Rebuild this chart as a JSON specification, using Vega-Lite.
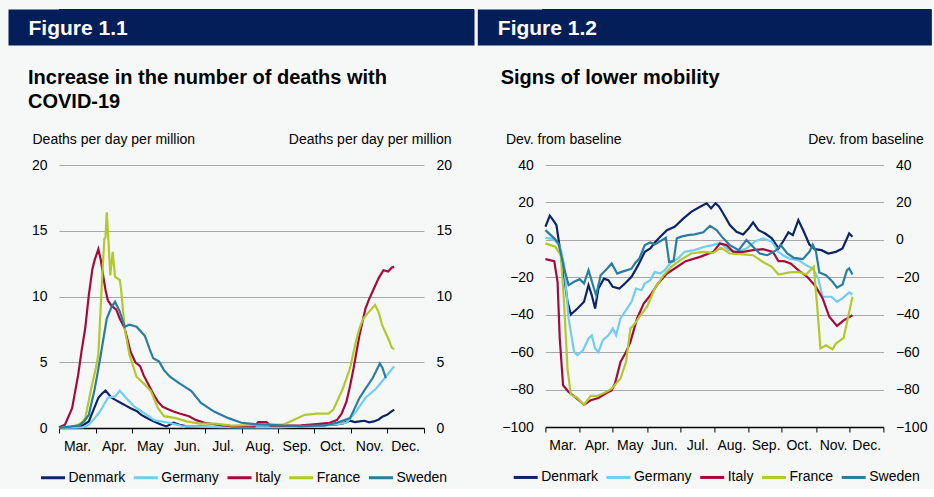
{
  "$schema": "https://vega.github.io/schema/vega-lite/v6.json",
  "background": "#f6f8f8",
  "padding": {"left": 8, "top": 9, "right": 0, "bottom": 4},
  "spacing": 22,
  "columns": 1,
  "resolve": {"scale": {"color": "independent"}},
  "config": {
    "font": "Liberation Sans",
    "view": {"stroke": null},
    "axis": {"labelFont": "Liberation Sans", "labelFontSize": 14, "labelColor": "#000", "titleFont": "Liberation Sans", "titleFontSize": 14, "titleFontWeight": "normal", "titleColor": "#000"},
    "legend": {"labelFont": "Liberation Sans", "labelFontSize": 14, "labelColor": "#000"},
    "title": {"font": "Liberation Sans", "color": "#000"}
  },
  "datasets": {
    "deaths": [
      {"d":"2020-03-01","c":"Denmark","v":0},{"d":"2020-03-15","c":"Denmark","v":0.02},{"d":"2020-03-21","c":"Denmark","v":0.2},{"d":"2020-03-26","c":"Denmark","v":0.5},{"d":"2020-03-30","c":"Denmark","v":1.4},{"d":"2020-04-03","c":"Denmark","v":2.3},{"d":"2020-04-06","c":"Denmark","v":2.6},{"d":"2020-04-09","c":"Denmark","v":2.85},{"d":"2020-04-14","c":"Denmark","v":2.3},{"d":"2020-04-18","c":"Denmark","v":2.1},{"d":"2020-04-22","c":"Denmark","v":1.9},{"d":"2020-04-26","c":"Denmark","v":1.7},{"d":"2020-04-30","c":"Denmark","v":1.5},{"d":"2020-05-05","c":"Denmark","v":1.3},{"d":"2020-05-09","c":"Denmark","v":1.0},{"d":"2020-05-13","c":"Denmark","v":0.8},{"d":"2020-05-17","c":"Denmark","v":0.6},{"d":"2020-05-22","c":"Denmark","v":0.4},{"d":"2020-05-26","c":"Denmark","v":0.25},{"d":"2020-05-30","c":"Denmark","v":0.12},{"d":"2020-06-05","c":"Denmark","v":0.4},{"d":"2020-06-10","c":"Denmark","v":0.25},{"d":"2020-06-16","c":"Denmark","v":0.12},{"d":"2020-06-28","c":"Denmark","v":0.1},{"d":"2020-07-20","c":"Denmark","v":0.05},{"d":"2020-08-20","c":"Denmark","v":0.05},{"d":"2020-09-20","c":"Denmark","v":0.12},{"d":"2020-10-18","c":"Denmark","v":0.25},{"d":"2020-10-25","c":"Denmark","v":0.35},{"d":"2020-10-31","c":"Denmark","v":0.55},{"d":"2020-11-04","c":"Denmark","v":0.45},{"d":"2020-11-08","c":"Denmark","v":0.5},{"d":"2020-11-12","c":"Denmark","v":0.55},{"d":"2020-11-16","c":"Denmark","v":0.43},{"d":"2020-11-20","c":"Denmark","v":0.5},{"d":"2020-11-24","c":"Denmark","v":0.65},{"d":"2020-11-27","c":"Denmark","v":0.85},{"d":"2020-12-01","c":"Denmark","v":1.0},{"d":"2020-12-04","c":"Denmark","v":1.2},{"d":"2020-12-07","c":"Denmark","v":1.4},
      {"d":"2020-03-01","c":"Germany","v":0},{"d":"2020-03-21","c":"Germany","v":0.05},{"d":"2020-03-26","c":"Germany","v":0.25},{"d":"2020-03-31","c":"Germany","v":0.75},{"d":"2020-04-03","c":"Germany","v":1.1},{"d":"2020-04-06","c":"Germany","v":1.5},{"d":"2020-04-11","c":"Germany","v":2.3},{"d":"2020-04-17","c":"Germany","v":2.4},{"d":"2020-04-21","c":"Germany","v":2.83},{"d":"2020-04-26","c":"Germany","v":2.3},{"d":"2020-05-03","c":"Germany","v":1.65},{"d":"2020-05-08","c":"Germany","v":1.35},{"d":"2020-05-12","c":"Germany","v":1.1},{"d":"2020-05-20","c":"Germany","v":0.6},{"d":"2020-06-01","c":"Germany","v":0.4},{"d":"2020-06-12","c":"Germany","v":0.15},{"d":"2020-07-01","c":"Germany","v":0.08},{"d":"2020-08-01","c":"Germany","v":0.05},{"d":"2020-09-01","c":"Germany","v":0.05},{"d":"2020-10-03","c":"Germany","v":0.15},{"d":"2020-10-20","c":"Germany","v":0.3},{"d":"2020-10-28","c":"Germany","v":0.4},{"d":"2020-11-05","c":"Germany","v":1.25},{"d":"2020-11-13","c":"Germany","v":2.3},{"d":"2020-11-22","c":"Germany","v":3.0},{"d":"2020-11-30","c":"Germany","v":3.9},{"d":"2020-12-07","c":"Germany","v":4.7},
      {"d":"2020-03-01","c":"Italy","v":0.05},{"d":"2020-03-06","c":"Italy","v":0.25},{"d":"2020-03-12","c":"Italy","v":1.5},{"d":"2020-03-17","c":"Italy","v":4.0},{"d":"2020-03-20","c":"Italy","v":5.9},{"d":"2020-03-23","c":"Italy","v":7.6},{"d":"2020-03-26","c":"Italy","v":10.1},{"d":"2020-03-29","c":"Italy","v":12.1},{"d":"2020-03-31","c":"Italy","v":12.8},{"d":"2020-04-03","c":"Italy","v":13.6},{"d":"2020-04-05","c":"Italy","v":12.8},{"d":"2020-04-07","c":"Italy","v":11.6},{"d":"2020-04-09","c":"Italy","v":10.5},{"d":"2020-04-11","c":"Italy","v":9.7},{"d":"2020-04-14","c":"Italy","v":9.3},{"d":"2020-04-18","c":"Italy","v":9.0},{"d":"2020-04-21","c":"Italy","v":8.3},{"d":"2020-04-25","c":"Italy","v":7.6},{"d":"2020-04-30","c":"Italy","v":5.8},{"d":"2020-05-04","c":"Italy","v":5.0},{"d":"2020-05-08","c":"Italy","v":4.7},{"d":"2020-05-11","c":"Italy","v":4.0},{"d":"2020-05-15","c":"Italy","v":3.3},{"d":"2020-05-19","c":"Italy","v":2.6},{"d":"2020-05-23","c":"Italy","v":2.0},{"d":"2020-05-27","c":"Italy","v":1.6},{"d":"2020-06-01","c":"Italy","v":1.4},{"d":"2020-06-05","c":"Italy","v":1.25},{"d":"2020-06-10","c":"Italy","v":1.1},{"d":"2020-06-18","c":"Italy","v":0.9},{"d":"2020-06-24","c":"Italy","v":0.6},{"d":"2020-07-01","c":"Italy","v":0.4},{"d":"2020-07-12","c":"Italy","v":0.25},{"d":"2020-07-25","c":"Italy","v":0.12},{"d":"2020-08-12","c":"Italy","v":0.12},{"d":"2020-08-15","c":"Italy","v":0.45},{"d":"2020-08-22","c":"Italy","v":0.45},{"d":"2020-08-25","c":"Italy","v":0.2},{"d":"2020-09-06","c":"Italy","v":0.18},{"d":"2020-09-20","c":"Italy","v":0.2},{"d":"2020-10-03","c":"Italy","v":0.3},{"d":"2020-10-14","c":"Italy","v":0.4},{"d":"2020-10-20","c":"Italy","v":0.6},{"d":"2020-10-24","c":"Italy","v":1.1},{"d":"2020-10-28","c":"Italy","v":2.0},{"d":"2020-10-31","c":"Italy","v":3.2},{"d":"2020-11-03","c":"Italy","v":4.55},{"d":"2020-11-08","c":"Italy","v":7.1},{"d":"2020-11-13","c":"Italy","v":9.1},{"d":"2020-11-16","c":"Italy","v":9.8},{"d":"2020-11-19","c":"Italy","v":10.4},{"d":"2020-11-24","c":"Italy","v":11.4},{"d":"2020-11-28","c":"Italy","v":12.0},{"d":"2020-12-02","c":"Italy","v":11.9},{"d":"2020-12-05","c":"Italy","v":12.2},{"d":"2020-12-07","c":"Italy","v":12.25},
      {"d":"2020-03-01","c":"France","v":0},{"d":"2020-03-15","c":"France","v":0.15},{"d":"2020-03-20","c":"France","v":0.4},{"d":"2020-03-23","c":"France","v":0.75},{"d":"2020-03-28","c":"France","v":3.0},{"d":"2020-04-01","c":"France","v":4.6},{"d":"2020-04-03","c":"France","v":5.6},{"d":"2020-04-06","c":"France","v":11.1},{"d":"2020-04-08","c":"France","v":14.4},{"d":"2020-04-09","c":"France","v":14.5},{"d":"2020-04-10","c":"France","v":16.4},{"d":"2020-04-11","c":"France","v":15.0},{"d":"2020-04-13","c":"France","v":11.6},{"d":"2020-04-14","c":"France","v":12.5},{"d":"2020-04-15","c":"France","v":13.4},{"d":"2020-04-17","c":"France","v":11.5},{"d":"2020-04-21","c":"France","v":11.25},{"d":"2020-04-22","c":"France","v":10.6},{"d":"2020-04-25","c":"France","v":7.6},{"d":"2020-04-29","c":"France","v":5.6},{"d":"2020-05-05","c":"France","v":3.9},{"d":"2020-05-12","c":"France","v":3.3},{"d":"2020-05-17","c":"France","v":2.8},{"d":"2020-05-23","c":"France","v":1.5},{"d":"2020-05-28","c":"France","v":0.9},{"d":"2020-06-07","c":"France","v":0.75},{"d":"2020-06-16","c":"France","v":0.5},{"d":"2020-06-27","c":"France","v":0.33},{"d":"2020-07-10","c":"France","v":0.33},{"d":"2020-07-24","c":"France","v":0.18},{"d":"2020-08-22","c":"France","v":0.25},{"d":"2020-09-05","c":"France","v":0.25},{"d":"2020-09-11","c":"France","v":0.5},{"d":"2020-09-23","c":"France","v":1.0},{"d":"2020-10-03","c":"France","v":1.1},{"d":"2020-10-13","c":"France","v":1.1},{"d":"2020-10-17","c":"France","v":1.4},{"d":"2020-10-20","c":"France","v":2.0},{"d":"2020-10-25","c":"France","v":3.0},{"d":"2020-10-31","c":"France","v":4.55},{"d":"2020-11-05","c":"France","v":6.6},{"d":"2020-11-08","c":"France","v":7.6},{"d":"2020-11-11","c":"France","v":8.3},{"d":"2020-11-16","c":"France","v":8.85},{"d":"2020-11-21","c":"France","v":9.35},{"d":"2020-11-24","c":"France","v":8.8},{"d":"2020-11-27","c":"France","v":7.8},{"d":"2020-11-30","c":"France","v":7.2},{"d":"2020-12-03","c":"France","v":6.6},{"d":"2020-12-05","c":"France","v":6.1},{"d":"2020-12-07","c":"France","v":6.0},
      {"d":"2020-03-01","c":"Sweden","v":0},{"d":"2020-03-18","c":"Sweden","v":0.2},{"d":"2020-03-22","c":"Sweden","v":0.5},{"d":"2020-03-26","c":"Sweden","v":1.0},{"d":"2020-03-31","c":"Sweden","v":3.0},{"d":"2020-04-03","c":"Sweden","v":4.5},{"d":"2020-04-06","c":"Sweden","v":6.1},{"d":"2020-04-10","c":"Sweden","v":8.3},{"d":"2020-04-14","c":"Sweden","v":9.2},{"d":"2020-04-17","c":"Sweden","v":9.6},{"d":"2020-04-21","c":"Sweden","v":8.85},{"d":"2020-04-25","c":"Sweden","v":7.7},{"d":"2020-04-29","c":"Sweden","v":7.85},{"d":"2020-05-05","c":"Sweden","v":7.7},{"d":"2020-05-12","c":"Sweden","v":7.0},{"d":"2020-05-16","c":"Sweden","v":6.0},{"d":"2020-05-19","c":"Sweden","v":5.3},{"d":"2020-05-24","c":"Sweden","v":5.05},{"d":"2020-05-28","c":"Sweden","v":4.4},{"d":"2020-06-02","c":"Sweden","v":3.9},{"d":"2020-06-10","c":"Sweden","v":3.4},{"d":"2020-06-20","c":"Sweden","v":2.8},{"d":"2020-06-28","c":"Sweden","v":1.9},{"d":"2020-07-09","c":"Sweden","v":1.25},{"d":"2020-07-21","c":"Sweden","v":0.75},{"d":"2020-08-01","c":"Sweden","v":0.4},{"d":"2020-08-12","c":"Sweden","v":0.3},{"d":"2020-08-23","c":"Sweden","v":0.25},{"d":"2020-09-06","c":"Sweden","v":0.18},{"d":"2020-09-20","c":"Sweden","v":0.15},{"d":"2020-10-10","c":"Sweden","v":0.2},{"d":"2020-10-20","c":"Sweden","v":0.4},{"d":"2020-10-31","c":"Sweden","v":0.75},{"d":"2020-11-08","c":"Sweden","v":2.3},{"d":"2020-11-13","c":"Sweden","v":3.0},{"d":"2020-11-19","c":"Sweden","v":3.8},{"d":"2020-11-25","c":"Sweden","v":4.9},{"d":"2020-11-27","c":"Sweden","v":4.6},{"d":"2020-11-30","c":"Sweden","v":3.8}
    ],
    "mobility": [
      {"d":"2020-03-01","c":"Denmark","v":7.0},{"d":"2020-03-05","c":"Denmark","v":12.9},{"d":"2020-03-08","c":"Denmark","v":10.5},{"d":"2020-03-11","c":"Denmark","v":7.9},{"d":"2020-03-15","c":"Denmark","v":-8.2},{"d":"2020-03-18","c":"Denmark","v":-19.7},{"d":"2020-03-21","c":"Denmark","v":-33},{"d":"2020-03-24","c":"Denmark","v":-39.9},{"d":"2020-03-30","c":"Denmark","v":-36.7},{"d":"2020-04-05","c":"Denmark","v":-33.1},{"d":"2020-04-09","c":"Denmark","v":-24.2},{"d":"2020-04-12","c":"Denmark","v":-29.6},{"d":"2020-04-15","c":"Denmark","v":-36.7},{"d":"2020-04-18","c":"Denmark","v":-26},{"d":"2020-04-23","c":"Denmark","v":-20.7},{"d":"2020-04-27","c":"Denmark","v":-21.5},{"d":"2020-05-01","c":"Denmark","v":-25.1},{"d":"2020-05-07","c":"Denmark","v":-26},{"d":"2020-05-12","c":"Denmark","v":-23.3},{"d":"2020-05-18","c":"Denmark","v":-19.7},{"d":"2020-05-24","c":"Denmark","v":-13.5},{"d":"2020-05-30","c":"Denmark","v":-6.4},{"d":"2020-06-04","c":"Denmark","v":-4.6},{"d":"2020-06-08","c":"Denmark","v":-1.4},{"d":"2020-06-13","c":"Denmark","v":1.65},{"d":"2020-06-19","c":"Denmark","v":5.2},{"d":"2020-06-26","c":"Denmark","v":7},{"d":"2020-07-04","c":"Denmark","v":11.5},{"d":"2020-07-11","c":"Denmark","v":15},{"d":"2020-07-19","c":"Denmark","v":17.7},{"d":"2020-07-25","c":"Denmark","v":19.5},{"d":"2020-07-29","c":"Denmark","v":16.8},{"d":"2020-08-02","c":"Denmark","v":19.5},{"d":"2020-08-05","c":"Denmark","v":18},{"d":"2020-08-09","c":"Denmark","v":14.1},{"d":"2020-08-15","c":"Denmark","v":7.9},{"d":"2020-08-21","c":"Denmark","v":4.3},{"d":"2020-08-27","c":"Denmark","v":2.9},{"d":"2020-09-01","c":"Denmark","v":6.1},{"d":"2020-09-05","c":"Denmark","v":9.3},{"d":"2020-09-10","c":"Denmark","v":5.2},{"d":"2020-09-16","c":"Denmark","v":3.4},{"d":"2020-09-22","c":"Denmark","v":0.8},{"d":"2020-09-28","c":"Denmark","v":-4.6},{"d":"2020-10-02","c":"Denmark","v":-1},{"d":"2020-10-07","c":"Denmark","v":4},{"d":"2020-10-11","c":"Denmark","v":2.5},{"d":"2020-10-16","c":"Denmark","v":10.6},{"d":"2020-10-21","c":"Denmark","v":4.3},{"d":"2020-10-26","c":"Denmark","v":-2.5},{"d":"2020-10-31","c":"Denmark","v":-5},{"d":"2020-11-06","c":"Denmark","v":-5.5},{"d":"2020-11-12","c":"Denmark","v":-7.3},{"d":"2020-11-19","c":"Denmark","v":-6.4},{"d":"2020-11-25","c":"Denmark","v":-4.6},{"d":"2020-12-01","c":"Denmark","v":3.4},{"d":"2020-12-04","c":"Denmark","v":1.7},
      {"d":"2020-03-01","c":"Germany","v":1.1},{"d":"2020-03-07","c":"Germany","v":0.5},{"d":"2020-03-11","c":"Germany","v":-1},{"d":"2020-03-15","c":"Germany","v":-5},{"d":"2020-03-18","c":"Germany","v":-13.5},{"d":"2020-03-22","c":"Germany","v":-42},{"d":"2020-03-27","c":"Germany","v":-59.9},{"d":"2020-03-30","c":"Germany","v":-61.7},{"d":"2020-04-04","c":"Germany","v":-59},{"d":"2020-04-09","c":"Germany","v":-52.7},{"d":"2020-04-12","c":"Germany","v":-51},{"d":"2020-04-15","c":"Germany","v":-58},{"d":"2020-04-18","c":"Germany","v":-60},{"d":"2020-04-22","c":"Germany","v":-53.6},{"d":"2020-04-27","c":"Germany","v":-51},{"d":"2020-05-01","c":"Germany","v":-47.4},{"d":"2020-05-04","c":"Germany","v":-51},{"d":"2020-05-08","c":"Germany","v":-42},{"d":"2020-05-13","c":"Germany","v":-37.6},{"d":"2020-05-18","c":"Germany","v":-33.1},{"d":"2020-05-22","c":"Germany","v":-26},{"d":"2020-05-27","c":"Germany","v":-26.9},{"d":"2020-05-30","c":"Germany","v":-23.3},{"d":"2020-06-04","c":"Germany","v":-21.5},{"d":"2020-06-08","c":"Germany","v":-17.1},{"d":"2020-06-13","c":"Germany","v":-18},{"d":"2020-06-17","c":"Germany","v":-16.2},{"d":"2020-06-23","c":"Germany","v":-11.8},{"d":"2020-06-29","c":"Germany","v":-10},{"d":"2020-07-05","c":"Germany","v":-6.4},{"d":"2020-07-14","c":"Germany","v":-5.5},{"d":"2020-07-23","c":"Germany","v":-3.7},{"d":"2020-07-31","c":"Germany","v":-2.8},{"d":"2020-08-06","c":"Germany","v":-1.4},{"d":"2020-08-14","c":"Germany","v":-5.5},{"d":"2020-08-21","c":"Germany","v":-6.4},{"d":"2020-08-30","c":"Germany","v":-4.6},{"d":"2020-09-07","c":"Germany","v":-0.7},{"d":"2020-09-14","c":"Germany","v":0.8},{"d":"2020-09-22","c":"Germany","v":-1},{"d":"2020-09-28","c":"Germany","v":-6.4},{"d":"2020-10-02","c":"Germany","v":-8.2},{"d":"2020-10-08","c":"Germany","v":-10},{"d":"2020-10-16","c":"Germany","v":-10.8},{"d":"2020-10-23","c":"Germany","v":-13.5},{"d":"2020-10-29","c":"Germany","v":-15.3},{"d":"2020-11-03","c":"Germany","v":-20.7},{"d":"2020-11-07","c":"Germany","v":-30.4},{"d":"2020-11-15","c":"Germany","v":-30.4},{"d":"2020-11-20","c":"Germany","v":-33.1},{"d":"2020-11-25","c":"Germany","v":-31.3},{"d":"2020-12-01","c":"Germany","v":-28.1},{"d":"2020-12-04","c":"Germany","v":-29.2},
      {"d":"2020-03-01","c":"Italy","v":-10.3},{"d":"2020-03-09","c":"Italy","v":-11.4},{"d":"2020-03-12","c":"Italy","v":-22.4},{"d":"2020-03-14","c":"Italy","v":-52.7},{"d":"2020-03-17","c":"Italy","v":-77.7},{"d":"2020-03-22","c":"Italy","v":-81.3},{"d":"2020-03-28","c":"Italy","v":-84},{"d":"2020-04-05","c":"Italy","v":-88.1},{"d":"2020-04-11","c":"Italy","v":-85.7},{"d":"2020-04-18","c":"Italy","v":-84.5},{"d":"2020-04-26","c":"Italy","v":-81.6},{"d":"2020-04-30","c":"Italy","v":-80.4},{"d":"2020-05-03","c":"Italy","v":-76.8},{"d":"2020-05-08","c":"Italy","v":-65.2},{"d":"2020-05-13","c":"Italy","v":-59.9},{"d":"2020-05-17","c":"Italy","v":-54.5},{"d":"2020-05-23","c":"Italy","v":-42},{"d":"2020-05-29","c":"Italy","v":-34},{"d":"2020-06-04","c":"Italy","v":-29.6},{"d":"2020-06-11","c":"Italy","v":-23.3},{"d":"2020-06-19","c":"Italy","v":-18},{"d":"2020-06-26","c":"Italy","v":-15.3},{"d":"2020-07-06","c":"Italy","v":-11.4},{"d":"2020-07-19","c":"Italy","v":-9.1},{"d":"2020-07-31","c":"Italy","v":-6.4},{"d":"2020-08-06","c":"Italy","v":-1.9},{"d":"2020-08-12","c":"Italy","v":-2.8},{"d":"2020-08-18","c":"Italy","v":-6.4},{"d":"2020-08-27","c":"Italy","v":-6.4},{"d":"2020-09-05","c":"Italy","v":-5.5},{"d":"2020-09-14","c":"Italy","v":-5},{"d":"2020-09-23","c":"Italy","v":-6.4},{"d":"2020-09-28","c":"Italy","v":-11.4},{"d":"2020-10-03","c":"Italy","v":-11.4},{"d":"2020-10-09","c":"Italy","v":-12.6},{"d":"2020-10-17","c":"Italy","v":-16.7},{"d":"2020-10-24","c":"Italy","v":-19.7},{"d":"2020-11-01","c":"Italy","v":-25.1},{"d":"2020-11-07","c":"Italy","v":-31.3},{"d":"2020-11-13","c":"Italy","v":-41.1},{"d":"2020-11-20","c":"Italy","v":-46},{"d":"2020-11-26","c":"Italy","v":-43},{"d":"2020-12-04","c":"Italy","v":-40.3},
      {"d":"2020-03-01","c":"France","v":-1.9},{"d":"2020-03-10","c":"France","v":-3.7},{"d":"2020-03-15","c":"France","v":-8.2},{"d":"2020-03-18","c":"France","v":-34.9},{"d":"2020-03-21","c":"France","v":-68.8},{"d":"2020-03-24","c":"France","v":-82.7},{"d":"2020-03-30","c":"France","v":-84.5},{"d":"2020-04-05","c":"France","v":-88.1},{"d":"2020-04-11","c":"France","v":-83.4},{"d":"2020-04-17","c":"France","v":-83.4},{"d":"2020-04-24","c":"France","v":-81.6},{"d":"2020-04-30","c":"France","v":-79.5},{"d":"2020-05-08","c":"France","v":-74.1},{"d":"2020-05-13","c":"France","v":-65.2},{"d":"2020-05-17","c":"France","v":-47.4},{"d":"2020-05-21","c":"France","v":-44.7},{"d":"2020-05-26","c":"France","v":-40.3},{"d":"2020-06-01","c":"France","v":-35.8},{"d":"2020-06-08","c":"France","v":-26},{"d":"2020-06-16","c":"France","v":-18.9},{"d":"2020-06-23","c":"France","v":-14.4},{"d":"2020-07-01","c":"France","v":-10.8},{"d":"2020-07-11","c":"France","v":-7.3},{"d":"2020-07-22","c":"France","v":-6.4},{"d":"2020-07-31","c":"France","v":-7},{"d":"2020-08-07","c":"France","v":-4.2},{"d":"2020-08-15","c":"France","v":-7.3},{"d":"2020-08-27","c":"France","v":-7.8},{"d":"2020-09-05","c":"France","v":-8.2},{"d":"2020-09-14","c":"France","v":-11.8},{"d":"2020-09-22","c":"France","v":-14.4},{"d":"2020-09-28","c":"France","v":-18.5},{"d":"2020-10-08","c":"France","v":-17.4},{"d":"2020-10-16","c":"France","v":-17.1},{"d":"2020-10-23","c":"France","v":-18.5},{"d":"2020-10-30","c":"France","v":-14.4},{"d":"2020-11-02","c":"France","v":-35},{"d":"2020-11-05","c":"France","v":-58},{"d":"2020-11-10","c":"France","v":-56.3},{"d":"2020-11-16","c":"France","v":-58.4},{"d":"2020-11-19","c":"France","v":-55.4},{"d":"2020-11-26","c":"France","v":-52.4},{"d":"2020-12-04","c":"France","v":-30.4},
      {"d":"2020-03-01","c":"Sweden","v":5.2},{"d":"2020-03-09","c":"Sweden","v":0.8},{"d":"2020-03-13","c":"Sweden","v":-1.9},{"d":"2020-03-18","c":"Sweden","v":-15.3},{"d":"2020-03-22","c":"Sweden","v":-24.2},{"d":"2020-03-27","c":"Sweden","v":-22.4},{"d":"2020-04-01","c":"Sweden","v":-21},{"d":"2020-04-05","c":"Sweden","v":-23.3},{"d":"2020-04-09","c":"Sweden","v":-16.2},{"d":"2020-04-14","c":"Sweden","v":-26},{"d":"2020-04-16","c":"Sweden","v":-29.6},{"d":"2020-04-20","c":"Sweden","v":-18.9},{"d":"2020-04-26","c":"Sweden","v":-15.3},{"d":"2020-04-30","c":"Sweden","v":-12.6},{"d":"2020-05-05","c":"Sweden","v":-18},{"d":"2020-05-09","c":"Sweden","v":-17.1},{"d":"2020-05-14","c":"Sweden","v":-16.2},{"d":"2020-05-18","c":"Sweden","v":-15.3},{"d":"2020-05-21","c":"Sweden","v":-12.6},{"d":"2020-05-25","c":"Sweden","v":-10},{"d":"2020-05-30","c":"Sweden","v":-2.8},{"d":"2020-06-04","c":"Sweden","v":-1.4},{"d":"2020-06-08","c":"Sweden","v":-2.5},{"d":"2020-06-13","c":"Sweden","v":-0.7},{"d":"2020-06-18","c":"Sweden","v":1.1},{"d":"2020-06-21","c":"Sweden","v":-11.8},{"d":"2020-06-25","c":"Sweden","v":-11.4},{"d":"2020-06-28","c":"Sweden","v":0.8},{"d":"2020-07-02","c":"Sweden","v":1.7},{"d":"2020-07-08","c":"Sweden","v":2.5},{"d":"2020-07-14","c":"Sweden","v":2.9},{"d":"2020-07-22","c":"Sweden","v":4},{"d":"2020-07-28","c":"Sweden","v":7.5},{"d":"2020-08-03","c":"Sweden","v":5.2},{"d":"2020-08-09","c":"Sweden","v":0.8},{"d":"2020-08-15","c":"Sweden","v":-2.8},{"d":"2020-08-23","c":"Sweden","v":-5.5},{"d":"2020-08-30","c":"Sweden","v":-0.1},{"d":"2020-09-03","c":"Sweden","v":-2.5},{"d":"2020-09-11","c":"Sweden","v":-7.3},{"d":"2020-09-18","c":"Sweden","v":-8.2},{"d":"2020-09-26","c":"Sweden","v":-5.5},{"d":"2020-09-30","c":"Sweden","v":-2.8},{"d":"2020-10-06","c":"Sweden","v":-7.3},{"d":"2020-10-12","c":"Sweden","v":-9.6},{"d":"2020-10-20","c":"Sweden","v":-10.3},{"d":"2020-10-26","c":"Sweden","v":-6.4},{"d":"2020-10-29","c":"Sweden","v":-2.5},{"d":"2020-11-01","c":"Sweden","v":-6.4},{"d":"2020-11-04","c":"Sweden","v":-17.4},{"d":"2020-11-10","c":"Sweden","v":-18.9},{"d":"2020-11-16","c":"Sweden","v":-22.4},{"d":"2020-11-20","c":"Sweden","v":-25.5},{"d":"2020-11-25","c":"Sweden","v":-23.8},{"d":"2020-11-29","c":"Sweden","v":-16.2},{"d":"2020-12-01","c":"Sweden","v":-15.3},{"d":"2020-12-04","c":"Sweden","v":-18.5}
    ]
  },
  "concat": [
    {
      "spacing": 6,
      "hconcat": [
        {
          "width": 415, "height": 36,
          "view": {"fill": "#041e5a", "stroke": null},
          "data": {"values": [{"k": 0}, {"k": 1}]},
          "mark": {"type": "point", "opacity": 0, "size": 0, "strokeWidth": 0},
          "encoding": {
            "x": {"field": "k", "type": "quantitative", "scale": {"domain": [0, 1], "nice": false, "zero": false, "range": [-33, 397]},
              "axis": {"orient": "top", "offset": -18, "title": "Figure 1.1", "labels": false, "ticks": false, "grid": false,
                "domain": true, "domainColor": "#041e5a", "domainWidth": 36, "domainCap": "square",
                "titleX": -31, "titleY": 1, "titleAlign": "left", "titleBaseline": "middle", "titleAngle": 0,
                "titleColor": "#ffffff", "titleFontSize": 21, "titleFontWeight": "bold", "titlePadding": 0}}
          }
        },
        {
          "width": 389.3, "height": 36,
          "view": {"fill": "#041e5a", "stroke": null},
          "data": {"values": [{"k": 0}, {"k": 1}]},
          "mark": {"type": "point", "opacity": 0, "size": 0, "strokeWidth": 0},
          "encoding": {
            "x": {"field": "k", "type": "quantitative", "scale": {"domain": [0, 1], "nice": false, "zero": false, "range": [-46.7, 371.3]},
              "axis": {"orient": "top", "offset": -18, "title": "Figure 1.2", "labels": false, "ticks": false, "grid": false,
                "domain": true, "domainColor": "#041e5a", "domainWidth": 36, "domainCap": "square",
                "titleX": -44.7, "titleY": 1, "titleAlign": "left", "titleBaseline": "middle", "titleAngle": 0,
                "titleColor": "#ffffff", "titleFontSize": 21, "titleFontWeight": "bold", "titlePadding": 0}}
          }
        }
      ]
    },
    {
      "spacing": 48.4,
      "resolve": {"scale": {"color": "independent"}},
      "hconcat": [
        {
          "width": 365, "height": 263,
          "title": {"text": ["Increase in the number of deaths with", "COVID-19"], "anchor": "start", "frame": "group", "dx": -31, "offset": 4, "baseline": "alphabetic", "lineHeight": 24.4, "fontSize": 20, "fontWeight": "bold"},
          "data": {"name": "deaths"},
          "encoding": {
            "x": {"field": "d", "type": "temporal",
              "scale": {"type": "utc", "domain": [{"year": 2020, "month": 3, "date": 1, "utc": true}, {"year": 2021, "month": 1, "date": 1, "utc": true}]},
              "axis": {"title": null, "grid": false,
                "values": [{"year":2020,"month":3,"date":1,"utc":true},{"year":2020,"month":4,"date":1,"utc":true},{"year":2020,"month":5,"date":1,"utc":true},{"year":2020,"month":6,"date":1,"utc":true},{"year":2020,"month":7,"date":1,"utc":true},{"year":2020,"month":8,"date":1,"utc":true},{"year":2020,"month":9,"date":1,"utc":true},{"year":2020,"month":10,"date":1,"utc":true},{"year":2020,"month":11,"date":1,"utc":true},{"year":2020,"month":12,"date":1,"utc":true},{"year":2021,"month":1,"date":1,"utc":true}],
                "labelExpr": "utcFormat(datum.value, '%m') == '01' ? '' : (utcFormat(datum.value, '%b') == 'May' ? 'May' : utcFormat(datum.value, '%b') + '.')",
                "labelOffset": 18, "labelPadding": 6, "labelAlign": "center", "labelBaseline": "top",
                "labelOverlap": false, "labelBound": false, "labelFlush": false,
                "tickSize": 5, "tickColor": "#000000", "tickWidth": 1, "domainColor": "#000000", "domainWidth": 1.5}}
          },
          "layer": [
            {
              "mark": {"type": "line", "strokeWidth": 2.2},
              "encoding": {
                "y": {"field": "v", "type": "quantitative", "scale": {"domain": [0, 20]},
                  "axis": {"orient": "left", "values": [0, 5, 10, 15, 20], "grid": true, "gridColor": "#a9a9a9", "gridWidth": 1, "ticks": false, "domain": false, "labelPadding": 12, "minExtent": 51,
                    "title": "Deaths per day per million", "titleAngle": 0, "titleAlign": "left", "titleBaseline": "alphabetic", "titleX": -27, "titleY": -22}},
                "color": {"field": "c", "type": "nominal",
                  "scale": {"domain": ["Denmark", "Germany", "Italy", "France", "Sweden"], "range": ["#0d2466", "#72cdf0", "#a50a3c", "#b3c82c", "#2a7d9f"]},
                  "legend": {"orient": "none", "legendX": -19.5, "legendY": 299, "direction": "horizontal", "title": null, "symbolType": "stroke", "symbolSize": 576, "symbolStrokeWidth": 3, "labelOffset": 2, "columnPadding": 1.75, "padding": 0}}
              }
            },
            {
              "mark": {"type": "line", "opacity": 0},
              "encoding": {
                "y": {"field": "v", "type": "quantitative", "scale": {"domain": [0, 20]},
                  "axis": {"orient": "right", "values": [0, 5, 10, 15, 20], "grid": false, "ticks": false, "domain": false, "labelPadding": 12,
                    "title": "Deaths per day per million", "titleAngle": 0, "titleAlign": "right", "titleBaseline": "alphabetic", "titleX": 27, "titleY": -22}},
                "detail": {"field": "c"}
              }
            }
          ],
          "resolve": {"axis": {"y": "independent"}}
        },
        {
          "width": 338, "height": 262,
          "title": {"text": "Signs of lower mobility", "anchor": "start", "frame": "group", "dx": -44.7, "offset": 28, "baseline": "alphabetic", "fontSize": 20, "fontWeight": "bold"},
          "data": {"name": "mobility"},
          "encoding": {
            "x": {"field": "d", "type": "temporal",
              "scale": {"type": "utc", "domain": [{"year": 2020, "month": 3, "date": 1, "utc": true}, {"year": 2021, "month": 1, "date": 1, "utc": true}]},
              "axis": {"title": null, "grid": false,
                "values": [{"year":2020,"month":3,"date":1,"utc":true},{"year":2020,"month":4,"date":1,"utc":true},{"year":2020,"month":5,"date":1,"utc":true},{"year":2020,"month":6,"date":1,"utc":true},{"year":2020,"month":7,"date":1,"utc":true},{"year":2020,"month":8,"date":1,"utc":true},{"year":2020,"month":9,"date":1,"utc":true},{"year":2020,"month":10,"date":1,"utc":true},{"year":2020,"month":11,"date":1,"utc":true},{"year":2020,"month":12,"date":1,"utc":true},{"year":2021,"month":1,"date":1,"utc":true}],
                "labelExpr": "utcFormat(datum.value, '%m') == '01' ? '' : (utcFormat(datum.value, '%b') == 'May' ? 'May' : utcFormat(datum.value, '%b') + '.')",
                "labelOffset": 17, "labelPadding": 6, "labelAlign": "center", "labelBaseline": "top",
                "labelOverlap": false, "labelBound": false, "labelFlush": false,
                "tickSize": 5, "tickColor": "#000000", "tickWidth": 1, "domainColor": "#000000", "domainWidth": 1.5}}
          },
          "layer": [
            {
              "mark": {"type": "line", "strokeWidth": 2.2},
              "encoding": {
                "y": {"field": "v", "type": "quantitative", "scale": {"domain": [-100, 40]},
                  "axis": {"orient": "left", "values": [-100, -80, -60, -40, -20, 0, 20, 40], "grid": true, "gridColor": "#a9a9a9", "gridWidth": 1, "ticks": false, "domain": false, "labelPadding": 12,
                    "title": "Dev. from baseline", "titleAngle": 0, "titleAlign": "left", "titleBaseline": "alphabetic", "titleX": -40, "titleY": -22}},
                "color": {"field": "c", "type": "nominal",
                  "scale": {"domain": ["Denmark", "Germany", "Italy", "France", "Sweden"], "range": ["#0d2466", "#72cdf0", "#a50a3c", "#b3c82c", "#2a7d9f"]},
                  "legend": {"orient": "none", "legendX": -33.2, "legendY": 298.7, "direction": "horizontal", "title": null, "symbolType": "stroke", "symbolSize": 576, "symbolStrokeWidth": 3, "labelOffset": 2, "columnPadding": 1.75, "padding": 0}}
              }
            },
            {
              "mark": {"type": "line", "opacity": 0},
              "encoding": {
                "y": {"field": "v", "type": "quantitative", "scale": {"domain": [-100, 40]},
                  "axis": {"orient": "right", "values": [-100, -80, -60, -40, -20, 0, 20, 40], "grid": false, "ticks": false, "domain": false, "labelPadding": 12,
                    "title": "Dev. from baseline", "titleAngle": 0, "titleAlign": "right", "titleBaseline": "alphabetic", "titleX": 40, "titleY": -22}},
                "detail": {"field": "c"}
              }
            }
          ],
          "resolve": {"axis": {"y": "independent"}}
        }
      ]
    }
  ]
}
